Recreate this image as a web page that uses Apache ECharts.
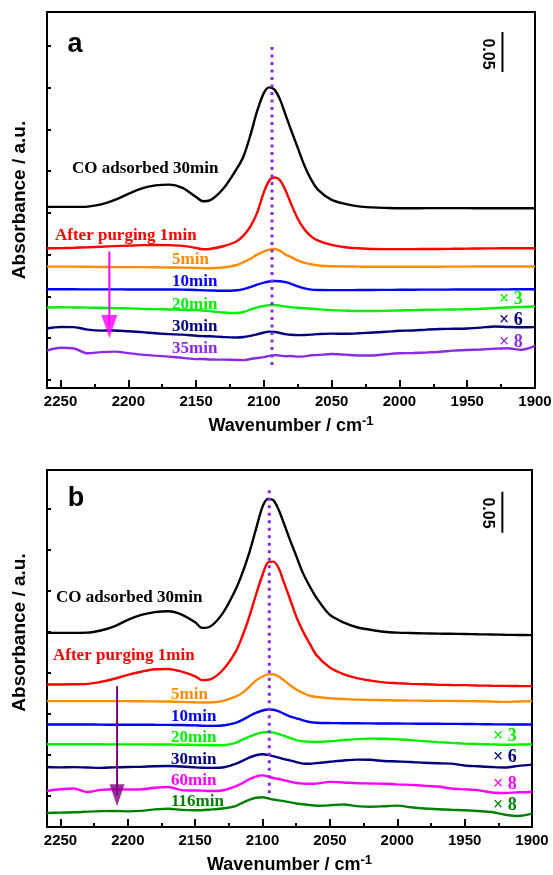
<!DOCTYPE html>
<html>
<head>
<meta charset="utf-8">
<script src="https://cdn.jsdelivr.net/npm/echarts@6.0.0/dist/echarts.min.js"></script>
<style>
  html, body { margin: 0; padding: 0; background: #fff; }
  #chart { width: 553px; height: 875px; }
</style>
</head>
<body>
<div id="chart"></div>
<script>
// wavenumber grid (cm-1) shared by every trace
const wavenumbers = [2260, 2250, 2240, 2230, 2220, 2210, 2200, 2190, 2180, 2170, 2160, 2150, 2145, 2140, 2130,
  2120, 2115, 2110, 2105, 2100, 2096, 2092, 2088, 2084, 2080, 2075, 2070, 2065, 2060, 2050,
  2040, 2030, 2020, 2010, 2000, 1990, 1980, 1970, 1960, 1950, 1940, 1930, 1920, 1910, 1900];

// panel a, absorbance as plotted (stacked offsets and x3/x6/x8 already applied)
const aCO30 = [0.2072, 0.2072, 0.2072, 0.2076, 0.2102, 0.2156, 0.2228, 0.2294, 0.2330, 0.2340, 0.2300, 0.2190, 0.2140, 0.2150, 0.2290,
  0.2530, 0.2680, 0.2930, 0.3220, 0.3440, 0.3506, 0.3476, 0.3356, 0.3176, 0.2996, 0.2780, 0.2564, 0.2396, 0.2276, 0.2156,
  0.2108, 0.2078, 0.2066, 0.2060, 0.2056, 0.2056, 0.2057, 0.2058, 0.2058, 0.2057, 0.2056, 0.2056, 0.2056, 0.2056, 0.2056];
const aPurge1 = [0.1576, 0.1578, 0.1582, 0.1588, 0.1595, 0.1602, 0.1608, 0.1614, 0.1616, 0.1614, 0.1605, 0.1580, 0.1564, 0.1568, 0.1600,
  0.1660, 0.1730, 0.1836, 0.2000, 0.2250, 0.2390, 0.2424, 0.2390, 0.2270, 0.2110, 0.1930, 0.1800, 0.1716, 0.1668, 0.1616,
  0.1588, 0.1576, 0.1568, 0.1566, 0.1566, 0.1566, 0.1568, 0.1568, 0.1570, 0.1572, 0.1574, 0.1575, 0.1576, 0.1576, 0.1576];
const aPurge5 = [0.1356, 0.1356, 0.1356, 0.1354, 0.1352, 0.1350, 0.1350, 0.1350, 0.1348, 0.1346, 0.1344, 0.1340, 0.1338, 0.1336, 0.1345,
  0.1375, 0.1410, 0.1450, 0.1500, 0.1540, 0.1560, 0.1568, 0.1545, 0.1500, 0.1470, 0.1430, 0.1400, 0.1385, 0.1370, 0.1360,
  0.1358, 0.1356, 0.1354, 0.1354, 0.1354, 0.1354, 0.1355, 0.1355, 0.1356, 0.1356, 0.1357, 0.1357, 0.1357, 0.1357, 0.1357];
const aPurge10 = [0.1084, 0.1084, 0.1084, 0.1083, 0.1083, 0.1083, 0.1082, 0.1082, 0.1082, 0.1081, 0.1080, 0.1076, 0.1073, 0.1070, 0.1066,
  0.1072, 0.1085, 0.1110, 0.1140, 0.1165, 0.1178, 0.1184, 0.1180, 0.1170, 0.1150, 0.1120, 0.1095, 0.1080, 0.1075, 0.1074,
  0.1074, 0.1075, 0.1076, 0.1077, 0.1078, 0.1079, 0.1080, 0.1080, 0.1081, 0.1081, 0.1082, 0.1082, 0.1083, 0.1084, 0.1084];
const aPurge20 = [0.0866, 0.0868, 0.0866, 0.0864, 0.0862, 0.0858, 0.0855, 0.0850, 0.0846, 0.0842, 0.0838, 0.0834, 0.0830, 0.0822, 0.0806,
  0.0800, 0.0812, 0.0840, 0.0866, 0.0884, 0.0894, 0.0896, 0.0888, 0.0876, 0.0868, 0.0862, 0.0856, 0.0850, 0.0844, 0.0834,
  0.0828, 0.0824, 0.0824, 0.0826, 0.0830, 0.0834, 0.0838, 0.0840, 0.0842, 0.0844, 0.0850, 0.0858, 0.0866, 0.0872, 0.0878];
const aPurge30 = [0.0614, 0.0632, 0.0630, 0.0600, 0.0588, 0.0590, 0.0580, 0.0570, 0.0556, 0.0546, 0.0540, 0.0526, 0.0522, 0.0520, 0.0512,
  0.0506, 0.0512, 0.0526, 0.0544, 0.0566, 0.0576, 0.0572, 0.0560, 0.0546, 0.0538, 0.0534, 0.0536, 0.0540, 0.0546, 0.0552,
  0.0550, 0.0556, 0.0566, 0.0574, 0.0586, 0.0590, 0.0600, 0.0608, 0.0610, 0.0614, 0.0624, 0.0638, 0.0632, 0.0628, 0.0630];
const aPurge35 = [0.0348, 0.0382, 0.0374, 0.0316, 0.0330, 0.0336, 0.0318, 0.0300, 0.0288, 0.0276, 0.0262, 0.0246, 0.0248, 0.0242, 0.0240,
  0.0236, 0.0234, 0.0248, 0.0260, 0.0270, 0.0286, 0.0294, 0.0288, 0.0280, 0.0284, 0.0276, 0.0280, 0.0292, 0.0296, 0.0308,
  0.0300, 0.0290, 0.0290, 0.0304, 0.0316, 0.0320, 0.0326, 0.0334, 0.0348, 0.0356, 0.0362, 0.0370, 0.0376, 0.0358, 0.0404];

// panel b
const bCO30 = [0.1992, 0.1992, 0.1992, 0.1994, 0.2020, 0.2070, 0.2150, 0.2210, 0.2245, 0.2255, 0.2215, 0.2120, 0.2052, 0.2060, 0.2220,
  0.2520, 0.2720, 0.2960, 0.3250, 0.3530, 0.3625, 0.3610, 0.3490, 0.3320, 0.3140, 0.2930, 0.2720, 0.2560, 0.2420, 0.2210,
  0.2120, 0.2060, 0.2030, 0.2006, 0.1995, 0.1990, 0.1985, 0.1982, 0.1980, 0.1978, 0.1975, 0.1972, 0.1968, 0.1966, 0.1964];
const bPurge1 = [0.1363, 0.1363, 0.1365, 0.1370, 0.1395, 0.1432, 0.1480, 0.1518, 0.1548, 0.1552, 0.1520, 0.1462, 0.1415, 0.1420, 0.1530,
  0.1760, 0.1950, 0.2180, 0.2450, 0.2700, 0.2850, 0.2860, 0.2780, 0.2600, 0.2420, 0.2190, 0.2010, 0.1860, 0.1720, 0.1570,
  0.1490, 0.1440, 0.1410, 0.1388, 0.1378, 0.1370, 0.1365, 0.1360, 0.1356, 0.1354, 0.1350, 0.1347, 0.1345, 0.1343, 0.1342];
const bPurge5 = [0.1160, 0.1160, 0.1160, 0.1160, 0.1160, 0.1160, 0.1160, 0.1158, 0.1156, 0.1154, 0.1150, 0.1145, 0.1143, 0.1143, 0.1160,
  0.1215, 0.1260, 0.1330, 0.1410, 0.1460, 0.1485, 0.1488, 0.1460, 0.1410, 0.1360, 0.1300, 0.1260, 0.1225, 0.1210, 0.1195,
  0.1185, 0.1178, 0.1174, 0.1171, 0.1168, 0.1166, 0.1164, 0.1162, 0.1162, 0.1160, 0.1158, 0.1154, 0.1150, 0.1155, 0.1159];
const bPurge10 = [0.0875, 0.0874, 0.0874, 0.0874, 0.0873, 0.0872, 0.0872, 0.0872, 0.0871, 0.0870, 0.0868, 0.0864, 0.0860, 0.0858, 0.0862,
  0.0895, 0.0930, 0.0975, 0.1015, 0.1045, 0.1057, 0.1055, 0.1035, 0.1005, 0.0975, 0.0950, 0.0925, 0.0905, 0.0895, 0.0892,
  0.0890, 0.0889, 0.0888, 0.0887, 0.0886, 0.0885, 0.0884, 0.0883, 0.0882, 0.0881, 0.0879, 0.0877, 0.0876, 0.0875, 0.0875];
const bPurge20 = [0.0634, 0.0634, 0.0633, 0.0634, 0.0633, 0.0632, 0.0632, 0.0632, 0.0631, 0.0630, 0.0628, 0.0626, 0.0624, 0.0622, 0.0622,
  0.0650, 0.0690, 0.0725, 0.0758, 0.0778, 0.0784, 0.0775, 0.0758, 0.0738, 0.0712, 0.0685, 0.0670, 0.0664, 0.0662, 0.0670,
  0.0685, 0.0696, 0.0702, 0.0700, 0.0694, 0.0684, 0.0672, 0.0660, 0.0650, 0.0642, 0.0636, 0.0632, 0.0628, 0.0630, 0.0634];
const bPurge30 = [0.0357, 0.0352, 0.0355, 0.0350, 0.0346, 0.0352, 0.0356, 0.0360, 0.0366, 0.0368, 0.0362, 0.0352, 0.0348, 0.0346, 0.0350,
  0.0395, 0.0430, 0.0470, 0.0500, 0.0512, 0.0505, 0.0488, 0.0470, 0.0452, 0.0438, 0.0415, 0.0398, 0.0396, 0.0404, 0.0420,
  0.0436, 0.0446, 0.0444, 0.0430, 0.0424, 0.0418, 0.0408, 0.0402, 0.0398, 0.0375, 0.0365, 0.0356, 0.0350, 0.0370, 0.0386];
const bPurge60 = [0.0064, 0.0085, 0.0094, 0.0052, 0.0078, 0.0086, 0.0082, 0.0084, 0.0104, 0.0112, 0.0075, 0.0070, 0.0068, 0.0064, 0.0070,
  0.0120, 0.0160, 0.0205, 0.0240, 0.0254, 0.0240, 0.0222, 0.0210, 0.0195, 0.0180, 0.0162, 0.0154, 0.0152, 0.0154, 0.0175,
  0.0168, 0.0158, 0.0156, 0.0152, 0.0145, 0.0138, 0.0128, 0.0118, 0.0094, 0.0084, 0.0074, 0.0046, 0.0040, 0.0048, 0.0052];
const bPurge116 = [-0.0204, -0.0200, -0.0196, -0.0188, -0.0182, -0.0180, -0.0184, -0.0178, -0.0160, -0.0152, -0.0166, -0.0171, -0.0170, -0.0164, -0.0150,
  -0.0120, -0.0080, -0.0045, -0.0018, -0.0012, -0.0025, -0.0040, -0.0050, -0.0060, -0.0072, -0.0088, -0.0098, -0.0108, -0.0116, -0.0110,
  -0.0100, -0.0120, -0.0128, -0.0122, -0.0115, -0.0135, -0.0150, -0.0158, -0.0165, -0.0170, -0.0180, -0.0192, -0.0225, -0.0240, -0.0212];

// ticks
const xMajorTicks = [1900, 1950, 2000, 2050, 2100, 2150, 2200, 2250];
const xMinorTicks = [1925, 1975, 2025, 2075, 2125, 2175, 2225];
const yTicksA = [0, 0.05, 0.10, 0.15, 0.20, 0.25, 0.30, 0.35, 0.40];
const yTicksB = [0, 0.05, 0.10, 0.15, 0.20, 0.25, 0.30, 0.35];

// [wavenumber, from, to]
const peakLineA = [2094, 0.0176, 0.404];
const peakLineB = [2095, 0.0036, 0.3733];
const scaleBarA = [1924, 0.369, 0.417];
const scaleBarB = [1922, 0.3212, 0.3712];
// [wavenumber, shaft start, head centre]
const arrowA = [2214, 0.1536, 0.0638];
const arrowB = [2208, 0.1342, 0.0012];

const SERIF = '"Liberation Serif", "Times New Roman", serif';
const SANS = '"Liberation Sans", Arial, sans-serif';

const C = {
  black: '#000000', red: '#ff0000', orange: '#ff8c00', blue: '#0000ff', green: '#00f000',
  navy: '#000080', violet: '#8a2be2', magenta: '#ff00ff', dkgreen: '#008000', purple: '#800080'
};

const toPairs = (ys) => wavenumbers.map((w, i) => [w, ys[i]]);

function spectrum(ys, color, gi) {
  return {
    type: 'line', xAxisIndex: gi * 2, yAxisIndex: gi, data: toPairs(ys),
    symbol: 'none', smooth: 0.3, silent: true, z: 3,
    lineStyle: { color: color, width: 2.4 }
  };
}

function vline(v, gi, lineStyle, z) {
  return {
    type: 'line', xAxisIndex: gi * 2, yAxisIndex: gi, symbol: 'none', silent: true, z: z,
    data: [[v[0], v[1]], [v[0], v[2]]], lineStyle: lineStyle
  };
}

function arrow(v, gi, color, head) {
  return [
    vline(v, gi, { color: color, width: 2 }, 4),
    {
      type: 'scatter', xAxisIndex: gi * 2, yAxisIndex: gi, silent: true, z: 5,
      data: [[v[0], v[2]]], symbol: 'triangle', symbolRotate: 180, symbolSize: head,
      itemStyle: { color: color }
    }
  ];
}

function label(text, x, y, color, size, family) {
  return {
    type: 'text', x: x, y: y, silent: true, z: 10,
    style: {
      text: text, fill: color, font: 'bold ' + size + 'px ' + family,
      align: 'left', verticalAlign: 'middle', textAlign: 'left', textVerticalAlign: 'middle'
    }
  };
}

function centred(text, x, y, size, rotation) {
  return {
    type: 'text', x: x, y: y, rotation: rotation || 0, silent: true, z: 10,
    style: {
      text: text, fill: '#000', font: 'bold ' + size + 'px ' + SANS,
      align: 'center', verticalAlign: 'middle', textAlign: 'center', textVerticalAlign: 'middle'
    }
  };
}

const gridA = { left: 47, top: 12, right: 18, height: 376 };
const gridB = { left: 47, top: 470, right: 21, height: 357 };

function xAxes(gi) {
  const base = {
    type: 'value', gridIndex: gi, min: 1900, max: 2260, inverse: true, position: 'bottom',
    splitLine: { show: false }
  };
  return [
    Object.assign({}, base, {
      name: '{t|Wavenumber / cm}{s|-1}', nameLocation: 'middle', nameGap: 27,
      nameTextStyle: {
        rich: {
          t: { fontFamily: SANS, fontWeight: 'bold', fontSize: 18, color: '#000' },
          s: { fontFamily: SANS, fontWeight: 'bold', fontSize: 13, color: '#000', verticalAlign: 'top', padding: [0, 0, 9, 0] }
        }
      },
      axisLine: { show: true, onZero: false, lineStyle: { color: '#000', width: 2 } },
      axisTick: { show: true, inside: true, length: 8, customValues: xMajorTicks, lineStyle: { color: '#000', width: 2 } },
      axisLabel: {
        show: true, customValues: xMajorTicks, margin: 6, color: '#000',
        fontFamily: SANS, fontWeight: 'bold', fontSize: 15, formatter: (v) => String(v)
      }
    }),
    Object.assign({}, base, {
      axisLine: { show: false, onZero: false },
      axisTick: { show: true, inside: true, length: 4, customValues: xMinorTicks, lineStyle: { color: '#000', width: 2 } },
      axisLabel: { show: false }
    })
  ];
}

function yAxis(gi, min, max, ticks, pad) {
  return {
    type: 'value', gridIndex: gi, min: min, max: max,
    name: 'Absorbance / a.u.', nameLocation: 'middle', nameGap: 18,
    nameTextStyle: { fontFamily: SANS, fontWeight: 'bold', fontSize: 19, color: '#000', padding: pad },
    splitLine: { show: false },
    axisLine: { show: true, onZero: false, lineStyle: { color: '#000', width: 2 } },
    axisTick: { show: true, inside: true, length: 4, customValues: ticks, lineStyle: { color: '#000', width: 2 } },
    axisLabel: { show: false }
  };
}

const dotted = { color: C.violet, width: 3, type: [3, 4.5], cap: 'butt' };
const bar = { color: '#000', width: 2 };

const option = {
  animation: false,
  backgroundColor: '#fff',
  grid: [
    Object.assign({ show: true, borderColor: '#000', borderWidth: 2, outerBoundsMode: 'none' }, gridA),
    Object.assign({ show: true, borderColor: '#000', borderWidth: 2, outerBoundsMode: 'none' }, gridB)
  ],
  xAxis: xAxes(0).concat(xAxes(1)),
  yAxis: [
    yAxis(0, -0.01, 0.441, yTicksA, [0, 0, 0, 0]),
    yAxis(1, -0.0375, 0.3977, yTicksB, [0, 0, 0, 32])
  ],
  series: [
    spectrum(aCO30, C.black, 0),
    spectrum(aPurge1, C.red, 0),
    spectrum(aPurge5, C.orange, 0),
    spectrum(aPurge10, C.blue, 0),
    spectrum(aPurge20, C.green, 0),
    spectrum(aPurge30, C.navy, 0),
    spectrum(aPurge35, C.violet, 0),
    vline(peakLineA, 0, dotted, 6),
    vline(scaleBarA, 0, bar, 6),
    spectrum(bCO30, C.black, 1),
    spectrum(bPurge1, C.red, 1),
    spectrum(bPurge5, C.orange, 1),
    spectrum(bPurge10, C.blue, 1),
    spectrum(bPurge20, C.green, 1),
    spectrum(bPurge30, C.navy, 1),
    spectrum(bPurge60, C.magenta, 1),
    spectrum(bPurge116, C.dkgreen, 1),
    vline(peakLineB, 1, dotted, 6),
    vline(scaleBarB, 1, bar, 6)
  ].concat(arrow(arrowA, 0, C.magenta, [16, 23]), arrow(arrowB, 1, C.purple, [15, 22])),
  graphic: [
    centred('a', 75, 45, 27),
    centred('b', 76, 499, 27),
    centred('0.05', 487, 54, 16, -Math.PI / 2),
    centred('0.05', 487, 513, 16, -Math.PI / 2),

    label('CO adsorbed 30min', 72, 169, C.black, 17, SERIF),
    label('After purging 1min', 55, 236, C.red, 17, SERIF),
    label('5min', 172, 260, C.orange, 17, SERIF),
    label('10min', 172, 282, C.blue, 17, SERIF),
    label('20min', 172, 304.5, C.green, 17, SERIF),
    label('30min', 172, 327, C.navy, 17, SERIF),
    label('35min', 172, 349, C.violet, 17, SERIF),
    label('× 3', 499, 299, C.green, 18, SERIF),
    label('× 6', 499, 320.5, C.navy, 18, SERIF),
    label('× 8', 499, 342, C.violet, 18, SERIF),

    label('CO adsorbed 30min', 56, 598, C.black, 17, SERIF),
    label('After purging 1min', 53, 656, C.red, 17, SERIF),
    label('5min', 171, 695, C.orange, 17, SERIF),
    label('10min', 171, 717, C.blue, 17, SERIF),
    label('20min', 171, 738, C.green, 17, SERIF),
    label('30min', 171, 759.5, C.navy, 17, SERIF),
    label('60min', 171, 781, C.magenta, 17, SERIF),
    label('116min', 171, 802, C.dkgreen, 17, SERIF),
    label('× 3', 493, 736, C.green, 18, SERIF),
    label('× 6', 493, 757.5, C.navy, 18, SERIF),
    label('× 8', 493, 784, C.magenta, 18, SERIF),
    label('× 8', 493, 805, C.dkgreen, 18, SERIF)
  ]
};

const chart = echarts.init(document.getElementById('chart'), null, { renderer: 'canvas' });
chart.setOption(option);
</script>
</body>
</html>
